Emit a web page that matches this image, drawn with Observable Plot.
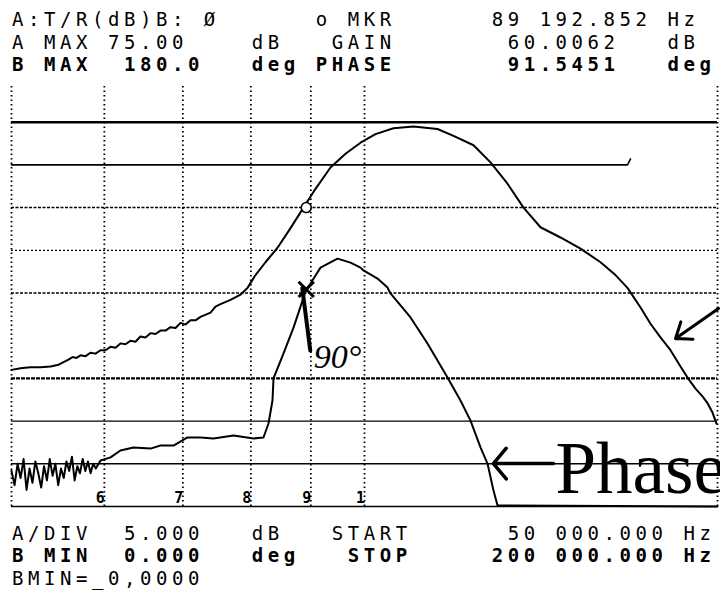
<!DOCTYPE html>
<html><head><meta charset="utf-8">
<script src="https://cdn.jsdelivr.net/npm/d3@7"></script>
<script src="https://cdn.jsdelivr.net/npm/@observablehq/plot@0.6"></script>
<style>
html,body{margin:0;padding:0;background:#fff;}
#wrap{position:relative;width:720px;height:596px;overflow:hidden;background:#fff;}
#wrap svg{position:absolute;left:0;top:0;}
.row{position:absolute;left:12px;font-family:"DejaVu Sans Mono",monospace;font-size:19px;letter-spacing:4.55px;white-space:pre;color:#000;line-height:19px;}
</style></head><body><div id="wrap"></div>
<script>
// ---- instrument readouts ----
const headerRows = [
  "A:T/R(dB)B: Ø      o MKR      89 192.852 Hz",
  "A MAX 75.00    dB   GAIN       60.0062   dB",
  "B MAX  180.0   deg PHASE       91.5451   deg"
];
const footerRows = [
  "A/DIV  5.000   dB   START      50 000.000 Hz",
  "B MIN  0.000   deg   STOP     200 000.000 Hz",
  "BMIN=_0,0000"
];

// ---- scales (kHz, dB, deg) ----
const START_KHZ = 50, STOP_KHZ = 200;
const A_MAX = 75, A_DIV = 5;           // gain trace
const B_MIN = 0, B_MAX = 180;          // phase trace
const A_MIN = A_MAX - 10 * A_DIV;

// ---- graticule ----
const gridFreqs = [50, 60, 70, 80, 90, 100, 200];
const freqLabelsAt = [60, 70, 80, 90, 100];
const freqLabels = ["6", "7", "8", "9", "1"];

// ---- gain trace (kHz, dB) ----
const gainFreq = [50.00,50.89,51.90,52.93,53.98,54.83,55.38,55.92,56.36,56.81,57.26,57.82,58.39,58.97,59.55,60.14,60.73,61.33,61.93,62.54,63.16,63.78,64.41,65.05,65.69,66.34,66.99,67.65,68.32,69.00,69.68,70.36,71.06,71.76,72.47,73.91,74.63,75.37,76.87,78.39,79.47,80.73,82.33,84.30,86.48,88.71,90.83,93.54,96.34,99.22,102.18,105.86,110.10,115.41,119.10,123.87,128.07,132.42,136.65,141.28,146.94,152.83,158.95,163.70,167.60,171.94,175.35,178.82,182.37,185.99,188.56,191.55,194.20,196.11,198.05,199.61];
const gainDb = [41.0,41.2,41.3,41.3,41.4,41.6,41.9,42.2,42.5,42.4,42.7,42.6,43.0,42.9,43.3,43.3,43.7,43.6,44.1,44.0,44.4,44.3,44.9,44.8,45.3,45.2,45.6,45.6,46.0,45.9,46.5,46.3,46.8,46.8,47.2,47.7,48.4,48.7,49.2,49.8,50.6,52.1,53.6,55.3,57.6,60.0,62.2,64.7,66.3,67.6,68.6,69.3,69.5,69.2,68.4,67.3,65.3,62.8,60.0,57.7,56.5,55.2,53.6,52.1,50.6,48.3,46.4,44.8,43.3,41.4,40.1,38.8,37.9,37.1,36.0,34.7];

// ---- stored reference trace (kHz, dB) ----
const refFreq = [50, 167.6, 168.6];
const refDb = [65.0, 65.0, 65.7];

// ---- phase trace (kHz, deg) ----
const phaseFreq = [50.0,50.3,50.6,50.9,51.2,51.5,51.8,52.1,52.4,52.7,53.0,53.3,53.6,53.9,54.2,54.5,54.8,55.1,55.4,55.7,56.0,56.3,56.6,56.9,57.2,57.5,57.8,58.1,58.4,58.7,59.0,59.55,60.73,61.93,63.53,65.69,66.99,68.73,70.64,72.47,74.34,77.32,80.42,82.01,82.82,83.47,83.64,85.30,86.99,88.54,89.19,89.94,91.72,94.84,97.29,99.22,99.81,102.59,104.62,105.24,109.46,113.17,117.70,120.74,123.14,125.58,127.32,128.83,129.85,200];
const phaseDeg = [15,9,18,12,20,7,16,10,19,14,8,17,11,20,13,18,9,16,12,19,15,21,11,17,14,20,15,19,14,18,16,19.4,20.7,23.6,24.9,24.4,25.7,25.7,29.1,29.1,28.7,29.9,28.7,29.1,35.0,44.7,54.0,64.5,75.4,86.8,91.5,94.0,100.7,104.5,102.8,100.7,99.5,96.1,92.3,89.8,79.7,68.7,54.4,44.7,36.2,24.9,18.1,6.7,0.4,0];

// ---- marker ----
const mkrFreq = 89.19, mkrGain = 60.0062, mkrPhase = 91.5451;

// ---- hand annotations (kHz, deg) ----
const strokeFrom = [88.5, 92], strokeTo = [89.9, 65.8];
const note90 = {f: 90.5, p: 58.2, text: "90°"};
const phaseNote = {f: 145.5, p: 5.5, text: "Phase"};
const phaseArrow = {f1: 144.9, f2: 128.8, p: 18.1};
const gainArrow = {f1: 200.4, p1: 83.5, f2: 184.2, p2: 70.8};

// convert gain dB to the shared vertical (phase) units
const toY = g => (g - A_MIN) / (A_MAX - A_MIN) * (B_MAX - B_MIN) + B_MIN;

const gain = gainFreq.map((f, i) => ({f, y: toY(gainDb[i])}));
const ref = refFreq.map((f, i) => ({f, y: toY(refDb[i])}));
const phase = phaseFreq.map((f, i) => ({f, y: phaseDeg[i]}));
const labels = freqLabelsAt.map((f, i) => ({f, t: freqLabels[i]}));

const chart = Plot.plot({
  width: 720, height: 596,
  marginLeft: 11, marginRight: 3, marginTop: 79, marginBottom: 90,
  x: {type: "log", domain: [START_KHZ, STOP_KHZ], axis: null},
  y: {domain: [B_MIN, B_MAX], axis: null},
  style: {background: "transparent", overflow: "visible"},
  marks: [
    Plot.ruleX(gridFreqs, {y1: 0, y2: 177, stroke: "#000", strokeWidth: 1.8, strokeDasharray: "1.5,3"}),
    Plot.ruleY([162], {stroke: "#000", strokeWidth: 2.4}),
    Plot.ruleY([126, 90], {stroke: "#000", strokeWidth: 1.5, strokeDasharray: "3,1.5"}),
    Plot.ruleY([108], {stroke: "#000", strokeWidth: 1.2, strokeDasharray: "2,2"}),
    Plot.ruleY([54], {stroke: "#000", strokeWidth: 2.2, strokeDasharray: "4,1"}),
    Plot.ruleY([36, 18], {stroke: "#000", strokeWidth: 1.4}),
    Plot.ruleY([0], {stroke: "#000", strokeWidth: 1.6}),
    Plot.line(ref, {x: "f", y: "y", stroke: "#000", strokeWidth: 1.6}),
    Plot.line(gain, {x: "f", y: "y", stroke: "#000", strokeWidth: 2, strokeLinejoin: "round"}),
    Plot.line(phase, {x: "f", y: "y", stroke: "#000", strokeWidth: 2, strokeLinejoin: "round"}),
    Plot.text(labels, {x: "f", y: 0, text: "t", dx: -4, dy: -8, fontSize: 15, fontWeight: "bold", fontFamily: "DejaVu Sans Mono", fill: "#000"}),
    // marker symbols
    Plot.dot([{f: mkrFreq, y: toY(mkrGain)}], {x: "f", y: "y", r: 5, stroke: "#000", strokeWidth: 1.6, fill: "#fff"}),
    Plot.link([{x1: strokeFrom[0], y1: strokeFrom[1], x2: strokeTo[0], y2: strokeTo[1]}], {x1: "x1", y1: "y1", x2: "x2", y2: "y2", stroke: "#000", strokeWidth: 4, strokeLinecap: "round"}),
    Plot.dot([{f: mkrFreq, y: mkrPhase}], {x: "f", y: "y", symbol: "times", r: 7, stroke: "#000", strokeWidth: 3}),
    // hand annotations
    Plot.text([note90], {x: "f", y: "p", text: "text", textAnchor: "start", lineAnchor: "bottom", fontSize: 34, fontStyle: "italic", fontFamily: "Liberation Serif", fill: "#000"}),
    Plot.text([phaseNote], {x: "f", y: "p", text: "text", textAnchor: "start", lineAnchor: "bottom", fontSize: 73, fontFamily: "Liberation Serif", fill: "#000"}),
    Plot.arrow([phaseArrow], {x1: "f1", x2: "f2", y1: "p", y2: "p", stroke: "#000", strokeWidth: 3.5, headLength: 22, headAngle: 100}),
    Plot.arrow([gainArrow], {x1: "f1", y1: "p1", x2: "f2", y2: "p2", stroke: "#000", strokeWidth: 3, headLength: 18, headAngle: 75})
  ]
});

const wrap = document.getElementById("wrap");
wrap.appendChild(chart);
const headerTops = [10, 32.5, 55];
const footerTops = [523.5, 546, 568.5];
const headerWeights = ["normal", "normal", "bold"];
const footerWeights = ["normal", "bold", "normal"];
headerRows.forEach((t, i) => {
  const d = document.createElement("div");
  d.className = "row"; d.textContent = t;
  d.style.top = headerTops[i] + "px"; d.style.fontWeight = headerWeights[i];
  wrap.appendChild(d);
});
footerRows.forEach((t, i) => {
  const d = document.createElement("div");
  d.className = "row"; d.textContent = t;
  d.style.top = footerTops[i] + "px"; d.style.fontWeight = footerWeights[i];
  wrap.appendChild(d);
});
</script>
</body></html>
